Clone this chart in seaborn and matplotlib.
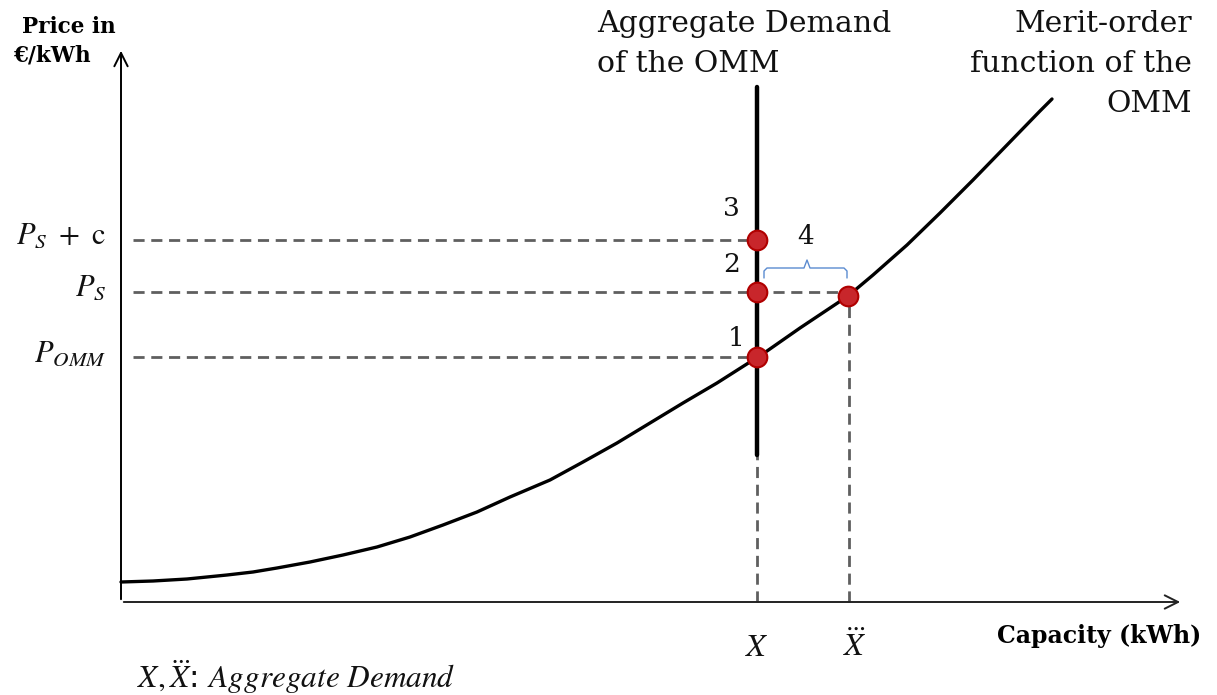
import numpy as np
import pandas as pd
import seaborn as sns
from matplotlib import pyplot as plt

# merit-order curve (capacity vs price)
capacity = [0, 32, 66, 106, 132, 156, 189, 222, 256, 289, 322, 356, 389, 429, 462,
            496, 529, 562, 596, 629, 636, 679, 727, 752, 786, 819, 852, 886, 919, 931]
price = [20, 21, 23, 27, 30, 34, 40, 47, 55, 65, 77, 90, 105, 122, 140,
         159, 179, 199, 219, 240, 244, 274, 306, 327, 357, 389, 422, 457, 491, 503]

# demand levels and price levels
x_demand = 636
x_ddot = 728
demand_top = 515
demand_bottom = 147
p_levels = [362, 310, 245]           # P_S + c, P_S, P_OMM
p_ends = [636, 727, 636]             # where the dashed lines stop
p_labels = [r'$P_S\ +\ \mathrm{c}$', r'$P_S$', r'$P_{OMM}$']
dot_x = [636, 636, 636, 727]
dot_y = [362, 310, 245, 306]
point_nums = ['3', '2', '1', '4']

sns.set_theme(style='white')
plt.rcParams['mathtext.fontset'] = 'stix'
plt.rcParams['text.color'] = '#111111'
serif = 'DejaVu Serif'

fig = plt.figure(figsize=(12.17, 6.95), dpi=100)
ax = fig.add_axes([0, 0, 1, 1])
ax.set_xlim(-121, 1096)
ax.set_ylim(-93, 602)
ax.axis('off')

# axes with arrows
ax.annotate('', xy=(0, 554), xytext=(0, 0),
            arrowprops=dict(arrowstyle='->,head_length=0.8,head_width=0.4', color='black', lw=1.4))
ax.annotate('', xy=(1062, 0), xytext=(0, 0),
            arrowprops=dict(arrowstyle='->,head_length=0.8,head_width=0.4', color='#222222', lw=1.4))

# merit-order curve
curve = pd.DataFrame({'Capacity': capacity, 'Price': price})
sns.lineplot(data=curve, x='Capacity', y='Price', ax=ax, color='black', lw=2.4, zorder=3)

# aggregate demand line
ax.plot([x_demand, x_demand], [demand_bottom, demand_top], color='black', lw=3.2, zorder=3)

# dashed guides
dash_kw = dict(color='#5f5f5f', lw=2.0, ls=(0, (4, 2.4)), zorder=2)
for lvl, end in zip(p_levels, p_ends):
    ax.plot([12, end], [lvl, lvl], **dash_kw)
ax.plot([x_demand, x_demand], [0, demand_bottom], **dash_kw)
ax.plot([x_ddot, x_ddot], [0, 305], **dash_kw)

# price labels
for lvl, lab in zip(p_levels, p_labels):
    ax.text(-15, lvl + 4, lab, ha='right', va='center', fontsize=22)

# red points
pts = pd.DataFrame({'x': dot_x, 'y': dot_y})
sns.scatterplot(data=pts, x='x', y='y', ax=ax, s=200, color='#c8262b',
                edgecolor='#b00000', linewidth=1.5, zorder=5)

# numbers
num_pos = [(610, 394), (611, 337), (615, 264), (685, 366)]
for (nx, ny), n in zip(num_pos, point_nums):
    ax.text(nx, ny, n, ha='center', va='center', fontsize=19, family=serif)

# curly brace between demand and merit-order intersection
bx = [643, 643, 646, 683, 686, 689, 723, 726, 726]
by = [324, 331, 334, 334, 342, 334, 334, 331, 324]
ax.plot(bx, by, color='#5b8bd0', lw=1.0, zorder=4)

# titles
ax.text(476, 592, 'Aggregate Demand\nof the OMM', ha='left', va='top', fontsize=21.5,
        family=serif, linespacing=1.55)
ax.text(1071, 592, 'Merit-order\nfunction of the\nOMM', ha='right', va='top', fontsize=21.5,
        family=serif, linespacing=1.55, multialignment='right')

# axis labels
ax.text(-99, 569, 'Price in', ha='left', va='baseline', fontsize=15.5, fontweight='bold',
        family=serif, color='black')
ax.text(-108, 540, '€/kWh', ha='left', va='baseline', fontsize=15.5, fontweight='bold',
        family=serif, color='black')
ax.text(876, -34, 'Capacity (kWh)', ha='left', va='center', fontsize=17, fontweight='bold',
        family=serif, color='black')

# demand tick labels
ax.text(x_demand, -45, r'$X$', ha='center', va='center', fontsize=23)
ax.text(x_ddot + 6, -45, r'$\dddot{X}$', ha='center', va='center', fontsize=23)
ax.text(16, -75, r'$X,\dddot{X}$: $\mathit{Aggregate\ Demand}$', ha='left', va='center', fontsize=22.5)

fig.savefig('out.png', dpi=100)
